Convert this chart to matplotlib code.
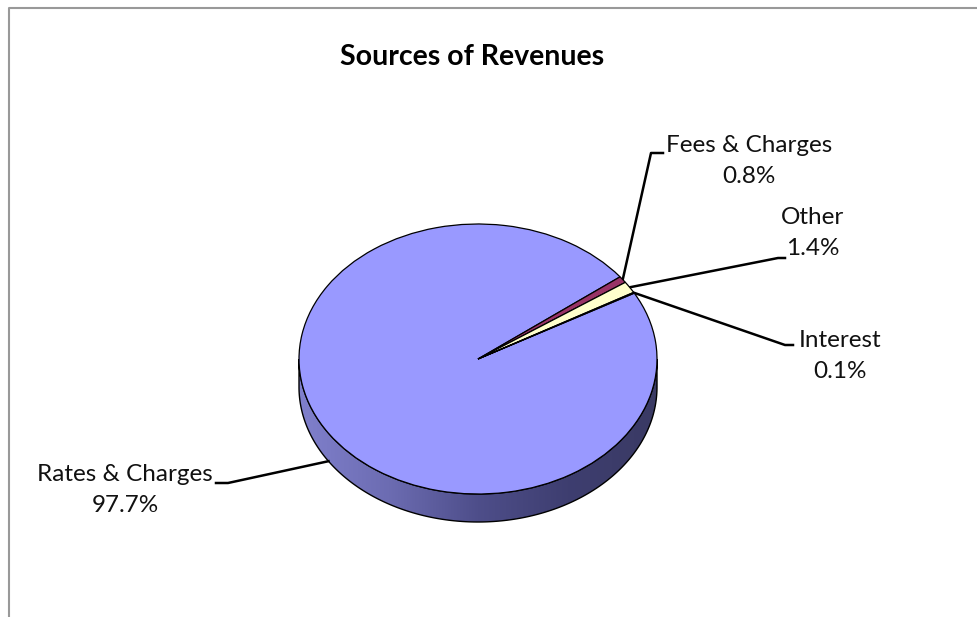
import numpy as np
import matplotlib
matplotlib.use("Agg")
import matplotlib.pyplot as plt
from matplotlib.patches import Polygon
from matplotlib.colors import LinearSegmentedColormap

# data
labels = ["Rates & Charges", "Fees & Charges", "Other", "Interest"]
shares = [97.7, 0.8, 1.4, 0.1]
colors = ["#9999FF", "#993366", "#FFFFCC", "#CCFFFF"]

# where the label text sits and where its leader line bends (pixels)
label_pos = [(125, 490), (749, 161), (813, 233), (840, 356)]
elbow_pos = [(228, 483), (651, 153), (778, 258), (785, 345)]
elbow_end = [(216, 483), (663, 153), (785, 258), (793, 345)]

W, H = 977, 617
cx, cy, a, b, depth = 478, 359, 179, 135, 28
start = 29.2

plt.rcParams['font.family'] = ['Lato', 'DejaVu Sans']
fig = plt.figure(figsize=(W / 100, H / 100), dpi=100)

# background axes in pixel coords
bg = fig.add_axes([0, 0, 1, 1])
bg.set_xlim(0, W)
bg.set_ylim(H, 0)
bg.axis('off')

# chart frame
bg.plot([9, 9, W], [H, 8, 8], color='#999999', lw=1.5)

# side of the cylinder (front half), with shading
t = np.linspace(0, np.pi, 200)
top_x = cx + a * np.cos(t)
top_y = cy + b * np.sin(t)
side = np.vstack([np.column_stack([top_x, top_y]),
                  np.column_stack([top_x[::-1], top_y[::-1] + depth])])
poly = Polygon(side, closed=True, facecolor='none', edgecolor='black', lw=1.0, zorder=2)
bg.add_patch(poly)
shade = LinearSegmentedColormap.from_list(
    'side', ['#8080CC', '#6C6CB2', '#4E4E8A', '#3E3E70', '#3A3A64'])
grad = np.linspace(0, 1, 256).reshape(1, -1)
im = bg.imshow(grad, cmap=shade, aspect='auto', zorder=1,
               extent=[cx - a, cx + a, cy + b + depth, cy - 5])
im.set_clip_path(poly)

# top face: a regular pie squashed into an ellipse
pax = fig.add_axes([(cx - a) / W, (H - cy - b) / H, 2 * a / W, 2 * b / H])
wedges, _ = pax.pie(shares, colors=colors, startangle=start, counterclock=False,
                    radius=1, wedgeprops=dict(edgecolor='black', linewidth=0.9))
for w in wedges:
    w.set_clip_on(False)
pax.set_aspect('auto')
pax.set_xlim(-1, 1)
pax.set_ylim(-1, 1)
pax.axis('off')

# labels with leader lines from the middle of each wedge
total = sum(shares)
ang = start
for i, v in enumerate(shares):
    span = 360 * v / total
    mid = np.deg2rad(ang - span / 2)
    ang -= span
    px = cx + a * np.cos(mid)
    py = cy - b * np.sin(mid)
    if np.sin(mid) < 0:
        py += depth
    ex, ey = elbow_pos[i]
    fx, fy = elbow_end[i]
    bg.plot([px, ex, fx], [py, ey, fy], color='black', lw=1.8, zorder=5)
    tx, ty = label_pos[i]
    bg.text(tx, ty, f"{labels[i]}\n{v}%", ha='center', va='center',
            fontsize=17.5, linespacing=1.55, color='#111111', zorder=6)

bg.text(472, 57, "Sources of Revenues", ha='center', va='center',
        fontsize=20.5, fontweight='bold', color='black')

fig.savefig("out.png", dpi=100)
